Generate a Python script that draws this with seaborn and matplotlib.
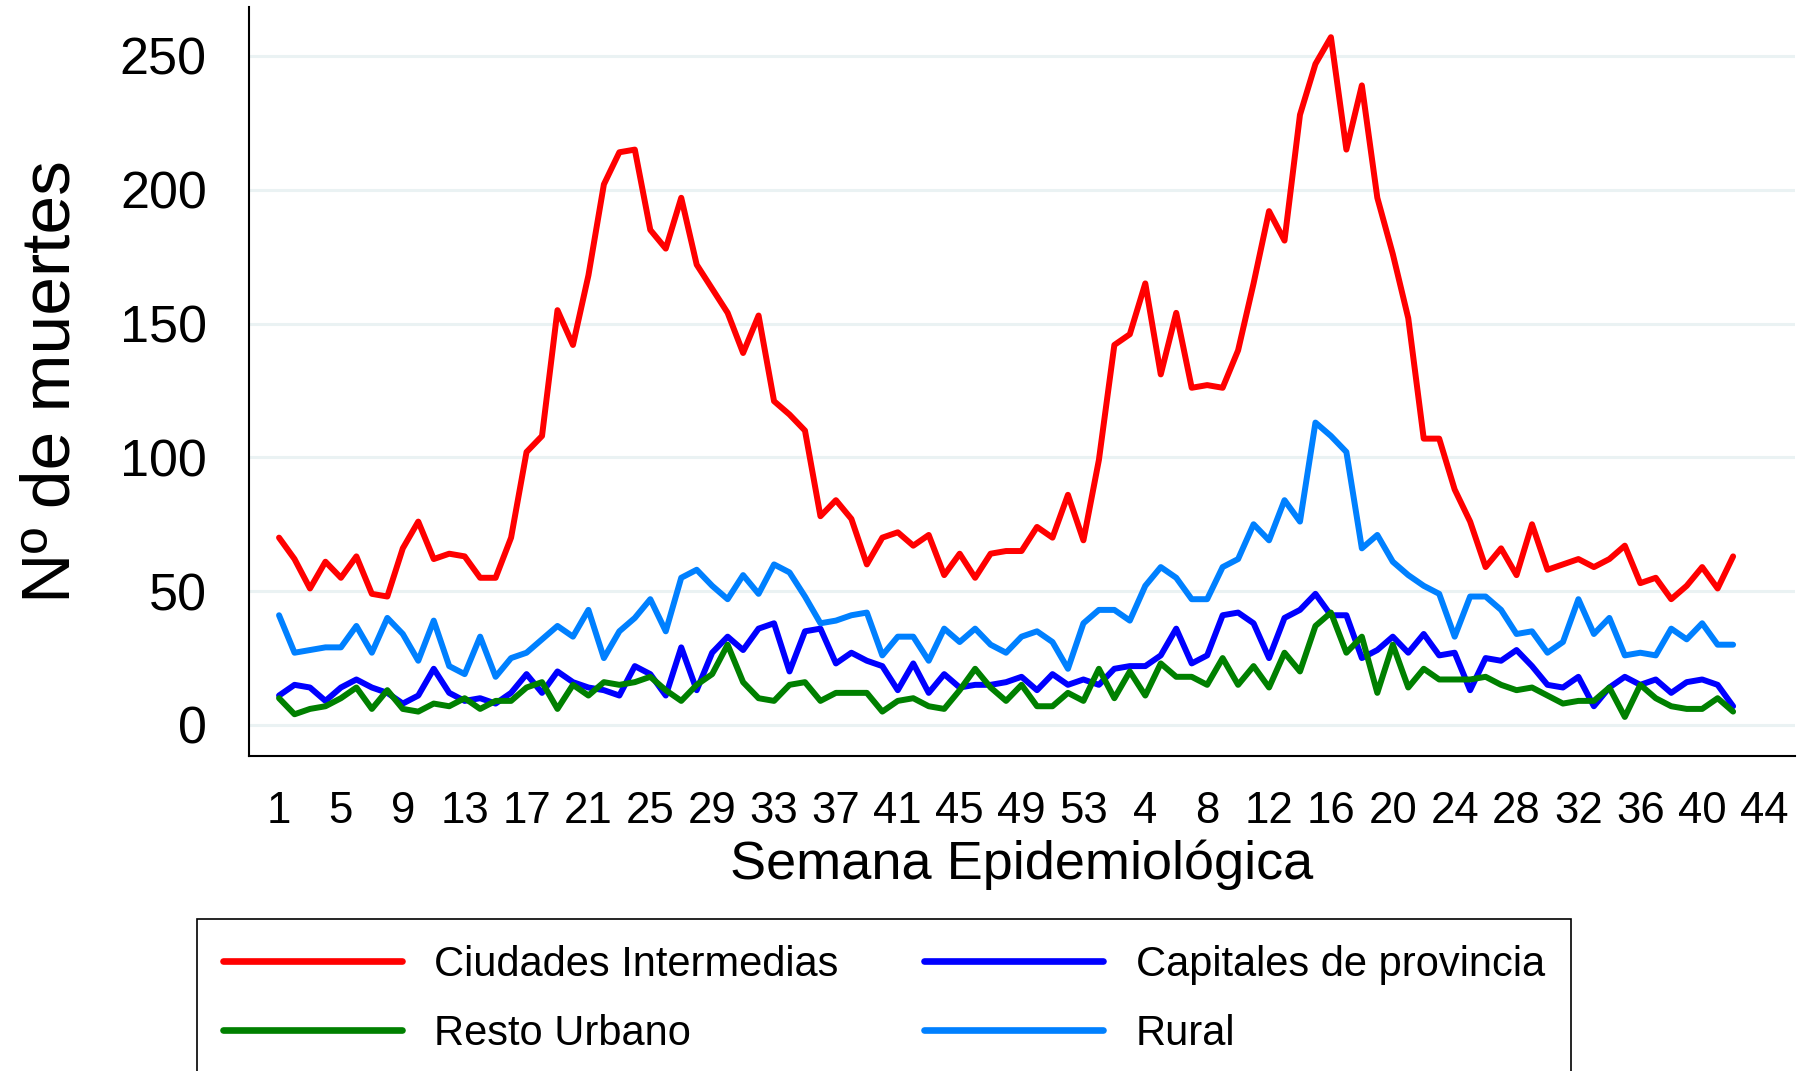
import pandas as pd
import matplotlib
matplotlib.use("Agg")
import matplotlib.pyplot as plt
import seaborn as sns

# Weekly deaths by zone, 53 weeks of year 1 followed by 42 weeks of year 2
ciudades_intermedias = [70, 62, 51, 61, 55, 63, 49, 48, 66, 76,
                        62, 64, 63, 55, 55, 70, 102, 108, 155, 142,
                        168, 202, 214, 215, 185, 178, 197, 172, 163, 154,
                        139, 153, 121, 116, 110, 78, 84, 77, 60, 70,
                        72, 67, 71, 56, 64, 55, 64, 65, 65, 74,
                        70, 86, 69, 99, 142, 146, 165, 131, 154, 126,
                        127, 126, 140, 165, 192, 181, 228, 247, 257, 215,
                        239, 197, 176, 152, 107, 107, 88, 76, 59, 66,
                        56, 75, 58, 60, 62, 59, 62, 67, 53, 55,
                        47, 52, 59, 51, 63]
capitales_provincia = [11, 15, 14, 9, 14, 17, 14, 12, 8, 11,
                       21, 12, 9, 10, 8, 12, 19, 12, 20, 16,
                       14, 13, 11, 22, 19, 11, 29, 13, 27, 33,
                       28, 36, 38, 20, 35, 36, 23, 27, 24, 22,
                       13, 23, 12, 19, 14, 15, 15, 16, 18, 13,
                       19, 15, 17, 15, 21, 22, 22, 26, 36, 23,
                       26, 41, 42, 38, 25, 40, 43, 49, 41, 41,
                       25, 28, 33, 27, 34, 26, 27, 13, 25, 24,
                       28, 22, 15, 14, 18, 7, 14, 18, 15, 17,
                       12, 16, 17, 15, 7]
resto_urbano = [10, 4, 6, 7, 10, 14, 6, 13, 6, 5,
                8, 7, 10, 6, 9, 9, 14, 16, 6, 15,
                11, 16, 15, 16, 18, 13, 9, 15, 19, 30,
                16, 10, 9, 15, 16, 9, 12, 12, 12, 5,
                9, 10, 7, 6, 13, 21, 14, 9, 15, 7,
                7, 12, 9, 21, 10, 20, 11, 23, 18, 18,
                15, 25, 15, 22, 14, 27, 20, 37, 42, 27,
                33, 12, 30, 14, 21, 17, 17, 17, 18, 15,
                13, 14, 11, 8, 9, 9, 14, 3, 15, 10,
                7, 6, 6, 10, 5]
rural = [41, 27, 28, 29, 29, 37, 27, 40, 34, 24,
         39, 22, 19, 33, 18, 25, 27, 32, 37, 33,
         43, 25, 35, 40, 47, 35, 55, 58, 52, 47,
         56, 49, 60, 57, 48, 38, 39, 41, 42, 26,
         33, 33, 24, 36, 31, 36, 30, 27, 33, 35,
         31, 21, 38, 43, 43, 39, 52, 59, 55, 47,
         47, 59, 62, 75, 69, 84, 76, 113, 108, 102,
         66, 71, 61, 56, 52, 49, 33, 48, 48, 43,
         34, 35, 27, 31, 47, 34, 40, 26, 27, 26,
         36, 32, 38, 30, 30]

zonas = ["Ciudades Intermedias", "Capitales de provincia", "Resto Urbano", "Rural"]
colores = ["#FF0000", "#0000FF", "#008000", "#0080FF"]

# x tick positions (consecutive week index) and their week labels
tick_pos = [1, 5, 9, 13, 17, 21, 25, 29, 33, 37, 41, 45, 49, 53,
            57, 61, 65, 69, 73, 77, 81, 85, 89, 93, 97]
tick_lab = ["1", "5", "9", "13", "17", "21", "25", "29", "33", "37", "41", "45", "49", "53",
            "4", "8", "12", "16", "20", "24", "28", "32", "36", "40", "44"]

semana = list(range(1, len(rural) + 1))
frames = []
for zona, vals in zip(zonas, [ciudades_intermedias, capitales_provincia, resto_urbano, rural]):
    frames.append(pd.DataFrame({"semana": semana, "muertes": vals, "zona": zona}))
data = pd.concat(frames, ignore_index=True)

sns.set_style("white")
plt.rcParams["font.family"] = ["Liberation Sans", "DejaVu Sans"]
plt.rcParams["text.color"] = "black"
plt.rcParams["axes.labelcolor"] = "black"
plt.rcParams["xtick.color"] = "black"
plt.rcParams["ytick.color"] = "black"

fig = plt.figure(figsize=(18.02, 10.71), dpi=100)
ax = fig.add_axes([0.1382, 0.2941, 0.8579, 0.6994])

sns.lineplot(data=data, x="semana", y="muertes", hue="zona", hue_order=zonas,
             palette=colores, linewidth=4.3, errorbar=None, legend=False, ax=ax)

ax.set_xlim(-0.94, 99.0)
ax.set_ylim(-11.6, 268.3)
ax.set_yticks([0, 50, 100, 150, 200, 250])
ax.set_xticks(tick_pos)
ax.set_xticklabels(tick_lab)

ax.yaxis.grid(True, color="#EAF2F3", linewidth=2.2)
ax.xaxis.grid(False)
ax.set_axisbelow(True)

for s in ["top", "right"]:
    ax.spines[s].set_visible(False)
for s in ["left", "bottom"]:
    ax.spines[s].set_color("black")
    ax.spines[s].set_linewidth(1.5)

ax.tick_params(axis="both", direction="out", length=13.5, width=1.5, colors="black")
ax.tick_params(axis="y", labelsize=37.5, pad=17)
ax.tick_params(axis="x", labelsize=31.5, pad=11.5)

ax.set_xlabel("Semana Epidemiológica", fontsize=39, color="black")
ax.set_ylabel("Nº de muertes", fontsize=50, color="black")
ax.xaxis.set_label_coords(0.5, -0.112)
ax.yaxis.set_label_coords(-0.1074, 0.5)

# legend: column-major order so rows read red/blue, green/light blue
lines = ax.get_lines()[:4]
order = [0, 2, 1, 3]
leg = fig.legend([lines[i] for i in order], [zonas[i] for i in order],
                 loc="upper left", bbox_to_anchor=(197 / 1802, 1 - 919 / 1071),
                 bbox_transform=fig.transFigure, ncol=2, fontsize=30,
                 frameon=True, fancybox=False, edgecolor="black", framealpha=1,
                 handlelength=4.3, handletextpad=0.78, columnspacing=2.05,
                 borderpad=0.62, labelspacing=0.7, borderaxespad=0)
leg.get_frame().set_linewidth(1.2)
for ln in leg.get_lines():
    ln.set_linewidth(4.8)
for t in leg.get_texts():
    t.set_color("black")

fig.savefig("out.png", dpi=100)
